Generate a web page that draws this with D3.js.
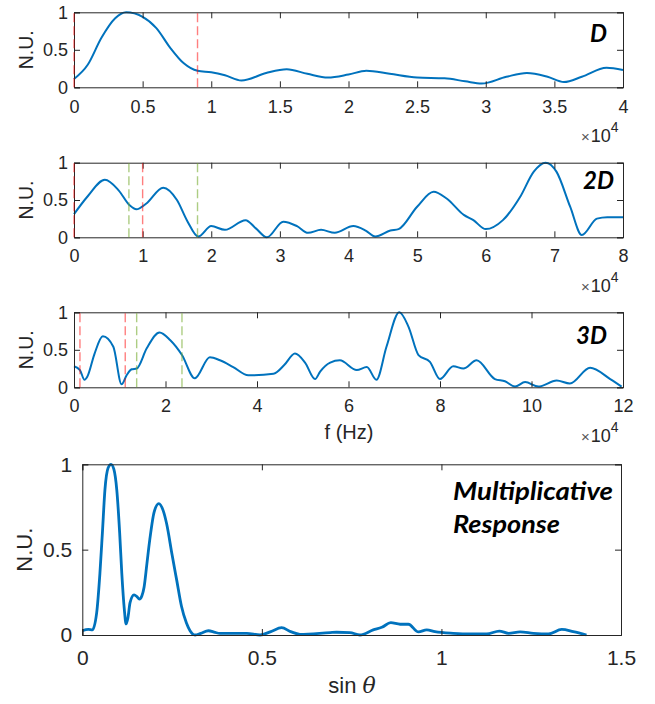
<!DOCTYPE html>
<html>
<head>
<meta charset="utf-8">
<title>Responses</title>
<script src="https://d3js.org/d3.v7.min.js"></script>
<style>
  body { margin: 0; background: #fff; }
  svg { display: block; }
  .axis path, .axis line { stroke: #262626; stroke-width: 1; fill: none; }
  .axis text { fill: #262626; font-family: "Liberation Sans", Arial, sans-serif; }
  .curve { fill: none; stroke: #0072BD; }
  .lbl { fill: #262626; font-family: "Liberation Sans", Arial, sans-serif; }
  .title { fill: #000; font-family: Lato, "Open Sans", sans-serif; font-weight: bold; font-style: italic; }
</style>
</head>
<body>
<svg id="chart" width="655" height="704"></svg>
<script>
// ---- data (frequencies in units of 1e4 Hz as shown on the axes) ----
const dX = [0, 0.1, 0.2, 0.3, 0.38, 0.5, 0.6, 0.7, 0.8, 0.9, 1.0, 1.1, 1.22, 1.4, 1.55, 1.7, 1.85, 2.0, 2.13, 2.3, 2.5, 2.7, 2.85, 2.97, 3.15, 3.3, 3.45, 3.57, 3.7, 3.88, 4.0];
const dY = [0.11, 0.30, 0.66, 0.92, 1.0, 0.94, 0.79, 0.53, 0.32, 0.22, 0.20, 0.16, 0.09, 0.19, 0.24, 0.18, 0.13, 0.17, 0.22, 0.18, 0.13, 0.12, 0.08, 0.05, 0.14, 0.19, 0.14, 0.07, 0.14, 0.26, 0.23];
const dRed = [0, 0.9];
const dGreen = [];

const d2X = [0, 0.2, 0.45, 0.65, 0.81, 0.91, 1.05, 1.3, 1.5, 1.65, 1.81, 2.0, 2.2, 2.5, 2.65, 2.81, 3.05, 3.25, 3.41, 3.6, 3.8, 4.07, 4.25, 4.39, 4.61, 4.73, 5.0, 5.24, 5.43, 5.68, 5.82, 6.0, 6.25, 6.5, 6.7, 6.87, 7.03, 7.23, 7.4, 7.62, 7.77, 8.0];
const d2Y = [0.31, 0.55, 0.77, 0.63, 0.43, 0.375, 0.45, 0.665, 0.5, 0.22, 0.01, 0.15, 0.1, 0.23, 0.12, 0.0, 0.21, 0.15, 0.06, 0.1, 0.06, 0.15, 0.09, 0.01, 0.09, 0.11, 0.41, 0.61, 0.52, 0.3, 0.23, 0.11, 0.23, 0.54, 0.88, 1.0, 0.88, 0.41, 0.03, 0.25, 0.27, 0.27];
const d2Red = [0, 1.0];
const d2Green = [0.8, 1.8];

const d3X = [0, 0.13, 0.23, 0.29, 0.45, 0.63, 0.86, 1.04, 1.15, 1.26, 1.37, 1.59, 1.87, 2.1, 2.36, 2.64, 2.97, 3.19, 3.48, 3.81, 4.36, 4.6, 4.83, 5.05, 5.27, 5.38, 5.6, 5.81, 6.18, 6.40, 6.61, 6.83, 7.11, 7.31, 7.53, 7.78, 8.0, 8.29, 8.51, 8.8, 9.2, 9.42, 9.64, 9.86, 10.15, 10.55, 10.84, 11.28, 11.72, 11.97];
const d3Y = [0.28, 0.23, 0.1, 0.14, 0.45, 0.68, 0.54, 0.04, 0.16, 0.24, 0.25, 0.52, 0.73, 0.63, 0.43, 0.12, 0.4, 0.36, 0.27, 0.16, 0.18, 0.3, 0.45, 0.33, 0.11, 0.21, 0.33, 0.36, 0.23, 0.27, 0.1, 0.54, 1.0, 0.81, 0.43, 0.34, 0.11, 0.28, 0.25, 0.36, 0.11, 0.08, 0.01, 0.07, 0.01, 0.09, 0.05, 0.26, 0.11, 0.01];
const d3Red = [0.13, 1.12];
const d3Green = [1.37, 2.36];

const mX = [0, 0.017, 0.028, 0.04, 0.049, 0.056, 0.063, 0.072, 0.08, 0.088, 0.096, 0.104, 0.11, 0.117, 0.122, 0.127, 0.133, 0.144, 0.152, 0.159, 0.166, 0.172, 0.18, 0.188, 0.2, 0.213, 0.225, 0.235, 0.25, 0.263, 0.276, 0.29, 0.3, 0.314, 0.33, 0.351, 0.37, 0.383, 0.42, 0.458, 0.495, 0.525, 0.555, 0.58, 0.606, 0.69, 0.708, 0.745, 0.773, 0.81, 0.834, 0.859, 0.885, 0.908, 0.936, 0.959, 0.982, 1.033, 1.08, 1.126, 1.161, 1.187, 1.219, 1.256, 1.298, 1.335, 1.367, 1.404];
const mY = [0.025, 0.033, 0.03, 0.13, 0.36, 0.6, 0.85, 0.98, 1.0, 0.97, 0.85, 0.6, 0.36, 0.15, 0.065, 0.1, 0.19, 0.235, 0.225, 0.21, 0.23, 0.28, 0.42, 0.56, 0.72, 0.77, 0.73, 0.65, 0.47, 0.32, 0.17, 0.07, 0.025, 0.0, 0.01, 0.025, 0.015, 0.01, 0.01, 0.01, 0.0, 0.02, 0.043, 0.02, 0.004, 0.014, 0.016, 0.014, 0.0, 0.03, 0.045, 0.072, 0.063, 0.063, 0.018, 0.03, 0.02, 0.01, 0.006, 0.006, 0.023, 0.01, 0.018, 0.01, 0.006, 0.033, 0.02, 0.0];

const yTicks = [0, 0.5, 1];
const dTicks = [0, 0.5, 1, 1.5, 2, 2.5, 3, 3.5, 4];
const d2Ticks = [0, 1, 2, 3, 4, 5, 6, 7, 8];
const d3Ticks = [0, 2, 4, 6, 8, 10, 12];
const mTicks = [0, 0.5, 1, 1.5];

var svg = d3.select("#chart");

function panel(o) {
    var x = d3.scaleLinear().domain(o.xDomain).range([o.left, o.right]);
    var y = d3.scaleLinear().domain([0, 1]).range([o.bottom, o.top]);
    var g = svg.append("g");

    // dashed markers
    var mark = function(vals, col) {
        vals.forEach(function(v) {
            g.append("line")
                .attr("x1", x(v)).attr("x2", x(v))
                .attr("y1", y(0)).attr("y2", y(1))
                .attr("stroke", col)
                .attr("stroke-width", 1.4)
                .attr("stroke-dasharray", "9,4");
        });
    };

    var line = d3.line()
        .x(function(d) { return x(d[0]); })
        .y(function(d) { return y(d[1]); })
        .curve(d3.curveMonotoneX);

    g.append("path")
        .attr("class", "curve")
        .attr("stroke-width", o.lw)
        .attr("d", line(d3.zip(o.xs, o.ys)));

    // axes (box with inward ticks)
    var fmt = function(d) { return d3.format("~g")(d); };
    var bottom = g.append("g").attr("class", "axis")
        .attr("transform", "translate(0," + o.bottom + ")")
        .call(d3.axisBottom(x).tickValues(o.xTicks).tickSize(-6).tickFormat(fmt));
    bottom.selectAll("text").attr("y", o.tickOff).attr("dy", null).style("font-size", o.fs + "px");
    g.append("g").attr("class", "axis")
        .attr("transform", "translate(0," + o.top + ")")
        .call(d3.axisTop(x).tickValues(o.xTicks).tickSize(-6).tickFormat(""));
    var left = g.append("g").attr("class", "axis")
        .attr("transform", "translate(" + o.left + ",0)")
        .call(d3.axisLeft(y).tickValues(yTicks).tickSize(-6).tickPadding(o.yPad).tickFormat(fmt));
    left.selectAll("text").style("font-size", o.fs + "px");
    g.append("g").attr("class", "axis")
        .attr("transform", "translate(" + o.right + ",0)")
        .call(d3.axisRight(y).tickValues(yTicks).tickSize(-6).tickFormat(""));
    g.selectAll(".domain").attr("stroke", "#262626");

    mark(o.red, "rgba(255,0,0,0.5)");
    mark(o.green, "rgba(119,172,48,0.6)");

    // y label
    g.append("text").attr("class", "lbl")
        .attr("transform", "translate(" + o.ylx + "," + ((o.top + o.bottom) / 2) + ") rotate(-90)")
        .attr("text-anchor", "middle")
        .style("font-size", o.yfs + "px")
        .text("N.U.");

    if (o.exp) {
        var t = g.append("text").attr("class", "lbl")
            .attr("x", 581).attr("y", o.bottom + 55)
            .style("font-size", "18px");
        t.append("tspan").style("font-size", "15px").style("fill", "#555").text("\u00d7");
        t.append("tspan").attr("dx", 1).text("10");
        t.append("tspan").attr("dy", -10).style("font-size", "14px").text("4");
    }
    return g;
}

var p1 = panel({ xDomain: [0, 4], left: 74, right: 623, top: 12.3, bottom: 87.3,
    xs: dX, ys: dY, xTicks: dTicks, red: dRed, green: dGreen, lw: 2,
    fs: 18, tickOff: 26, yPad: 6, ylx: 33, yfs: 19.5, exp: true });
p1.append("text").attr("class", "title").attr("x", 607).attr("y", 41.5)
    .attr("text-anchor", "end").style("font-size", "24px").text("D");

var p2 = panel({ xDomain: [0, 8], left: 74, right: 623, top: 162.7, bottom: 237.3,
    xs: d2X, ys: d2Y, xTicks: d2Ticks, red: d2Red, green: d2Green, lw: 2,
    fs: 18, tickOff: 25, yPad: 6, ylx: 33, yfs: 19.5, exp: true });
p2.append("text").attr("class", "title").attr("x", 614).attr("y", 189)
    .attr("text-anchor", "end").style("font-size", "24px").text("2D");

var p3 = panel({ xDomain: [0, 12], left: 74, right: 623, top: 312.3, bottom: 387.3,
    xs: d3X, ys: d3Y, xTicks: d3Ticks, red: d3Red, green: d3Green, lw: 2,
    fs: 18, tickOff: 25, yPad: 6, ylx: 33, yfs: 19.5, exp: true });
p3.append("text").attr("class", "title").attr("x", 607).attr("y", 344)
    .attr("text-anchor", "end").style("font-size", "24px").text("3D");
p3.append("text").attr("class", "lbl").attr("x", 349).attr("y", 439)
    .attr("text-anchor", "middle").style("font-size", "20px").text("f (Hz)");

var p4 = panel({ xDomain: [0, 1.5], left: 82.3, right: 621, top: 464.3, bottom: 635,
    xs: mX, ys: mY, xTicks: mTicks, red: [], green: [], lw: 2.8,
    fs: 21, tickOff: 30, yPad: 10, ylx: 32, yfs: 22, exp: false });
p4.append("text").attr("class", "title").attr("x", 453).attr("y", 500)
    .attr("textLength", 160).attr("lengthAdjust", "spacingAndGlyphs")
    .style("font-size", "24px").text("Multiplicative");
p4.append("text").attr("class", "title").attr("x", 453).attr("y", 533)
    .attr("textLength", 107).attr("lengthAdjust", "spacingAndGlyphs")
    .style("font-size", "24px").text("Response");
var st = p4.append("text").attr("class", "lbl").attr("x", 352).attr("y", 693)
    .attr("text-anchor", "middle").style("font-size", "22px");
st.append("tspan").text("sin ");
st.append("tspan").style("font-family", "'DejaVu Serif', 'Liberation Serif', serif")
    .style("font-style", "italic").text("\u03b8");
</script>
</body>
</html>
